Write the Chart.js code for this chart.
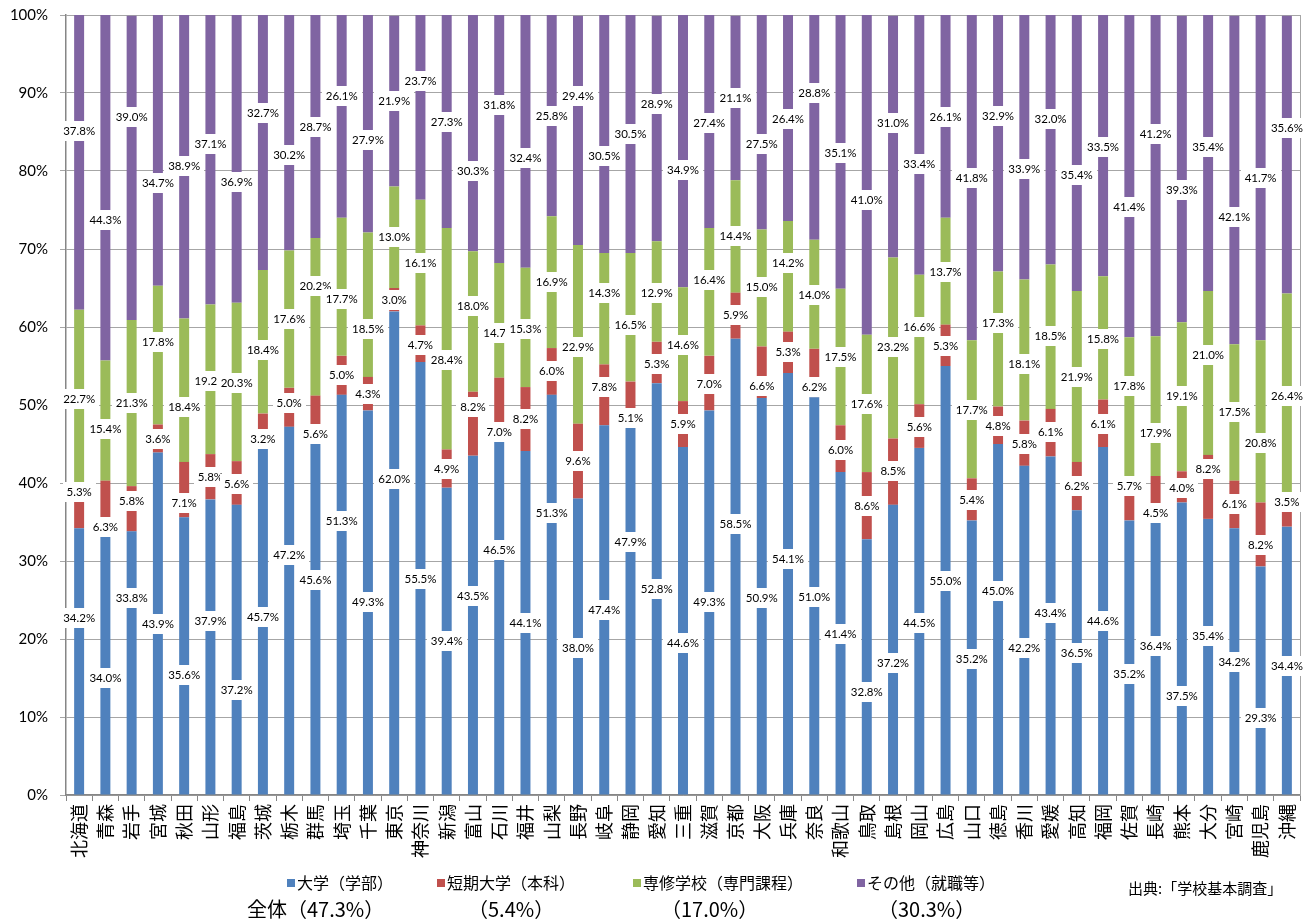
<!DOCTYPE html>
<html lang="ja">
<head>
<meta charset="utf-8">
<title>都道府県別 高等学校卒業者の進路</title>
<script src="https://cdn.jsdelivr.net/npm/chart.js@4.4.1/dist/chart.umd.min.js"></script>
<style>
  html, body { margin: 0; padding: 0; background: #ffffff; }
  #wrap { position: relative; width: 1314px; height: 921px; }
</style>
</head>
<body>
<div id="wrap"><canvas id="chart" width="1314" height="921"></canvas></div>
<script>
// ---- data -------------------------------------------------------------
const prefectures = ['北海道','青森','岩手','宮城','秋田','山形','福島','茨城','栃木','群馬',
  '埼玉','千葉','東京','神奈川','新潟','富山','石川','福井','山梨','長野',
  '岐阜','静岡','愛知','三重','滋賀','京都','大阪','兵庫','奈良','和歌山',
  '鳥取','島根','岡山','広島','山口','徳島','香川','愛媛','高知','福岡',
  '佐賀','長崎','熊本','大分','宮崎','鹿児島','沖縄'];

// 大学（学部）
const university = [34.2,34.0,33.8,43.9,35.6,37.9,37.2,45.7,47.2,45.6,
  51.3,49.3,62.0,55.5,39.4,43.5,46.5,44.1,51.3,38.0,
  47.4,47.9,52.8,44.6,49.3,58.5,50.9,54.1,51.0,41.4,
  32.8,37.2,44.5,55.0,35.2,45.0,42.2,43.4,36.5,44.6,
  35.2,36.4,37.5,35.4,34.2,29.3,34.4];
// 短期大学（本科）
const juniorCollege = [5.3,6.3,5.8,3.6,7.1,5.8,5.6,3.2,5.0,5.6,
  5.0,4.3,3.0,4.7,4.9,8.2,7.0,8.2,6.0,9.6,
  7.8,5.1,5.3,5.9,7.0,5.9,6.6,5.3,6.2,6.0,
  8.6,8.5,5.6,5.3,5.4,4.8,5.8,6.1,6.2,6.1,
  5.7,4.5,4.0,8.2,6.1,8.2,3.5];
// 専修学校（専門課程）
const vocational = [22.7,15.4,21.3,17.8,18.4,19.2,20.3,18.4,17.6,20.2,
  17.7,18.5,13.0,16.1,28.4,18.0,14.7,15.3,16.9,22.9,
  14.3,16.5,12.9,14.6,16.4,14.4,15.0,14.2,14.0,17.5,
  17.6,23.2,16.6,13.7,17.7,17.3,18.1,18.5,21.9,15.8,
  17.8,17.9,19.1,21.0,17.5,20.8,26.4];
// その他（就職等）
const other = [37.8,44.3,39.0,34.7,38.9,37.1,36.9,32.7,30.2,28.7,
  26.1,27.9,21.9,23.7,27.3,30.3,31.8,32.4,25.8,29.4,
  30.5,30.5,28.9,34.9,27.4,21.1,27.5,26.4,28.8,35.1,
  41.0,31.0,33.4,26.1,41.8,32.9,33.9,32.0,35.4,33.5,
  41.4,41.2,39.3,35.4,42.1,41.7,35.6];

const seriesNames = ['大学（学部）','短期大学（本科）','専修学校（専門課程）','その他（就職等）'];
const nationalShares = ['全体（47.3%）','（5.4%）','（17.0%）','（30.3%）'];
const sourceNote = '出典:「学校基本調査」';
const percentTicks = [0,10,20,30,40,50,60,70,80,90,100];

// ---- label placement (height on the % axis where each value box sits) --
const universityLabelAt = [22.7,15.0,25.3,21.9,15.4,22.3,13.4,22.8,30.8,27.6,
  35.1,24.7,40.5,27.7,19.8,25.5,31.4,22.1,36.2,18.9,
  23.7,32.5,26.4,19.5,24.7,34.7,25.3,30.3,25.4,20.6,
  13.2,16.9,22.1,27.4,17.5,26.2,18.9,23.3,18.2,22.3,
  15.5,19.1,12.7,20.4,17.1,9.9,16.6];
const juniorLabelAt = [38.9,34.4,37.7,45.6,37.4,40.8,39.9,45.6,50.3,46.3,
  53.8,51.4,63.5,57.7,41.8,49.7,46.5,48.2,54.3,42.8,
  52.3,48.3,55.3,47.6,52.7,61.5,52.5,56.8,52.3,44.2,
  37.1,41.6,47.2,57.6,37.8,47.3,45.0,46.5,39.6,47.6,
  39.6,36.2,39.4,41.8,37.3,32.0,37.6];
const vocationalLabelAt = [50.8,46.9,50.2,58.1,49.7,53.1,52.8,57.1,61.0,65.3,
  63.6,59.7,71.6,68.2,55.8,62.7,59.2,59.8,65.8,57.5,
  64.3,60.2,64.4,57.7,66.0,71.7,65.1,68.2,64.1,56.1,
  50.1,57.4,60.0,67.1,49.4,60.5,55.3,58.8,53.6,58.5,
  52.4,46.4,51.1,56.4,49.1,45.1,51.2];
const otherLabelAt = [85.1,73.7,86.9,78.5,80.6,83.5,78.6,87.4,82.1,85.7,
  89.6,84.0,89.0,91.6,86.3,80.0,88.5,81.7,87.0,89.6,
  81.9,84.7,88.6,80.1,86.2,89.3,83.5,86.7,90.0,82.3,
  76.3,86.2,80.9,86.9,79.1,87.0,80.3,86.7,79.5,83.1,
  75.4,84.7,77.6,83.1,74.1,79.1,85.5];

// ---- styling ----------------------------------------------------------
const colors = ['#4F81BD', '#C0504D', '#9BBB59', '#8064A2'];
const latinFont = 'Lato, "Open Sans", sans-serif';
const cjkFont = '"Noto Sans CJK JP", "Noto Sans", sans-serif';

// value boxes drawn on top of every stacked segment
const segmentLabels = {
  id: 'segmentLabels',
  afterDatasetsDraw(chart) {
    const ctx = chart.ctx;
    const yScale = chart.scales.y;
    ctx.save();
    ctx.font = '11.5px ' + latinFont;
    ctx.textAlign = 'center';
    ctx.textBaseline = 'middle';
    chart.data.datasets.forEach((ds, di) => {
      const meta = chart.getDatasetMeta(di);
      meta.data.forEach((bar, i) => {
        const text = ds.data[i].toFixed(1) + '%';
        const py = Math.round(yScale.getPixelForValue(ds.labelAt[i]));
        const w = Math.round(ctx.measureText(text).width) + 8;
        const h = 20;
        ctx.fillStyle = '#ffffff';
        ctx.fillRect(Math.round(bar.x - w / 2), py - h / 2, w, h);
        ctx.fillStyle = '#000000';
        ctx.fillText(text, bar.x, py + 0.5);
      });
    });
    ctx.restore();
  }
};

// plot-area frame on the right edge
const plotFrame = {
  id: 'plotFrame',
  beforeDatasetsDraw(chart) {
    const { ctx, chartArea } = chart;
    ctx.save();
    ctx.strokeStyle = '#a6a6a6';
    ctx.lineWidth = 1;
    ctx.beginPath();
    ctx.moveTo(Math.round(chartArea.right) + 0.5, chartArea.top);
    ctx.lineTo(Math.round(chartArea.right) + 0.5, chartArea.bottom);
    ctx.stroke();
    ctx.restore();
  }
};

// legend with the nationwide shares underneath, plus the source note
const legendBlock = {
  id: 'legendBlock',
  afterDraw(chart) {
    const ctx = chart.ctx;
    const itemX = [287, 437, 633, 857];
    const shareX = [247, 468, 661, 878];
    ctx.save();
    ctx.textBaseline = 'middle';
    ctx.textAlign = 'left';
    chart.data.datasets.forEach((ds, i) => {
      ctx.fillStyle = ds.backgroundColor;
      ctx.fillRect(itemX[i], 879, 8, 8);
      ctx.fillStyle = '#000000';
      ctx.font = '16px ' + cjkFont;
      ctx.fillText(ds.label, itemX[i] + 10, 883);
      ctx.font = '20px ' + cjkFont;
      ctx.fillText(nationalShares[i], shareX[i], 909);
    });
    ctx.font = '15px ' + cjkFont;
    ctx.fillText(sourceNote, 1128, 888);
    ctx.restore();
  }
};

const datasets = [university, juniorCollege, vocational, other].map((values, i) => ({
  label: seriesNames[i],
  data: values,
  labelAt: [universityLabelAt, juniorLabelAt, vocationalLabelAt, otherLabelAt][i],
  backgroundColor: colors[i],
  borderWidth: 0,
  stack: 'share',
  barPercentage: 0.38,
  categoryPercentage: 1.0
}));

new Chart(document.getElementById('chart'), {
  type: 'bar',
  data: { labels: prefectures, datasets },
  options: {
    responsive: false,
    devicePixelRatio: 1,
    animation: false,
    layout: { padding: { left: 0, right: 14, top: 15, bottom: 0 } },
    plugins: {
      legend: { display: false },
      tooltip: { enabled: false }
    },
    scales: {
      x: {
        stacked: true,
        afterFit(axis) { axis.height = 126; },
        grid: { display: true, drawOnChartArea: false, offset: true, tickLength: 6, color: '#868686' },
        border: { color: '#868686', width: 1.5 },
        ticks: {
          autoSkip: false, minRotation: 90, maxRotation: 90, padding: 3,
          color: '#000000', font: { family: cjkFont, size: 18 }
        }
      },
      y: {
        stacked: true,
        min: 0, max: 100,
        afterFit(axis) {
          axis.width = 66;
          axis.paddingTop = 0;
          axis.paddingBottom = 0;
        },
        afterBuildTicks(axis) { axis.ticks = percentTicks.map(v => ({ value: v })); },
        grid: { color: '#a6a6a6', tickLength: 6, lineWidth: 1 },
        border: { color: '#868686', width: 1.5 },
        ticks: {
          padding: 12, color: '#000000',
          font: { family: latinFont, size: 15 },
          callback: v => v + '%'
        }
      }
    }
  },
  plugins: [plotFrame, segmentLabels, legendBlock]
});
</script>
</body>
</html>
